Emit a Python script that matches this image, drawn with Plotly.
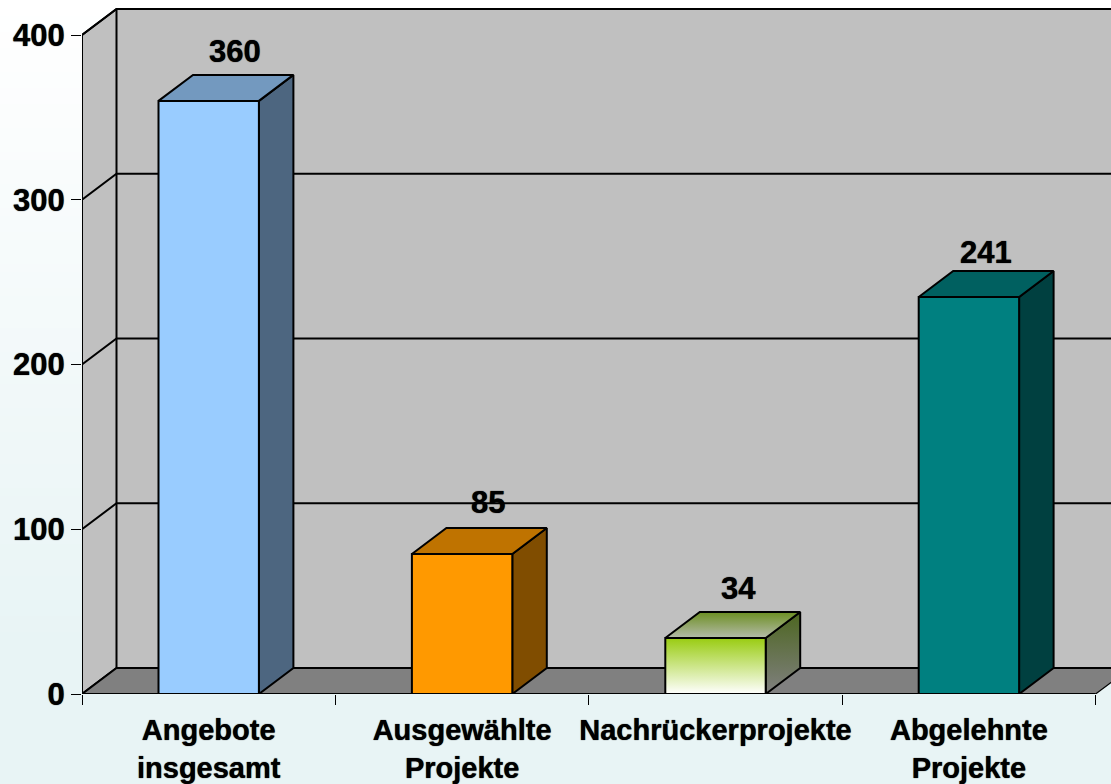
import plotly.graph_objects as go

# ---- data ----
categories = ["Angebote<br>insgesamt", "Ausgewählte<br>Projekte", "Nachrückerprojekte", "Abgelehnte<br>Projekte"]
values = [360, 85, 34, 241]
y_ticks = [0, 100, 200, 300, 400]

# ---- styles ----
FRONT = ["#99CCFF", "#FF9900", None, "#008080"]
TOP = ["#7399BF", "#BF7300", None, "#006060"]
SIDE = ["#4D6680", "#804D00", None, "#004040"]
LABEL_SHIFT = [(26, 3), (26, 5), (23, 3), (17, -2)]

W, H = 1111, 784
L, B = 82, 90
UNIT_X = 253.4      # px per category
UNIT_Y = 164.75 / 100  # px per value unit
DX = 34.5 / UNIT_X   # depth in x units
DY = 26 / UNIT_Y     # depth in y units
BAR_W = 100.4 / UNIT_X
PLOT_W, PLOT_H = W - L, H - B
X_MAX = -0.5 + PLOT_W / UNIT_X
Y_MAX = PLOT_H / UNIT_Y
X_END = 3.5
LW = 2
BLACK = "#000000"
WALL = "#C0C0C0"
FLOOR = "#808080"
SHADOW = "0 0 1px #000"

fig = go.Figure()


def poly(xs, ys, fill=None, gradient=None, width=LW):
    kw = dict(fillgradient=gradient) if gradient else dict(fillcolor=fill)
    fig.add_trace(go.Scatter(x=xs + xs[:1], y=ys + ys[:1], mode="lines", fill="toself",
                             line=dict(color=BLACK, width=width), hoverinfo="skip",
                             showlegend=False, cliponaxis=False, **kw))


def seg(xs, ys, width=LW):
    fig.add_trace(go.Scatter(x=xs, y=ys, mode="lines", line=dict(color=BLACK, width=width),
                             hoverinfo="skip", showlegend=False, cliponaxis=False))


x0 = -0.5
top = y_ticks[-1]
# back wall, left wall, floor
fig.add_trace(go.Scatter(x=[x0 + DX, X_MAX, X_MAX, x0 + DX, x0 + DX], y=[DY, DY, top + DY, top + DY, DY],
                         mode="lines", fill="toself", fillcolor=WALL, line=dict(color=WALL, width=0),
                         hoverinfo="skip", showlegend=False))
poly([x0, x0 + DX, x0 + DX, x0], [0, DY, top + DY, top], fill=WALL)
fig.add_trace(go.Scatter(x=[x0, x0 + DX, X_MAX, X_MAX, X_END, x0], y=[0, DY, DY, (X_MAX - X_END) / DX * DY, 0, 0],
                         mode="lines", fill="toself", fillcolor=FLOOR, line=dict(color=FLOOR, width=0),
                         hoverinfo="skip", showlegend=False))
# gridlines
for t in y_ticks:
    seg([x0, x0 + DX, X_MAX], [t, t + DY, t + DY])
seg([X_END, X_END + DX], [0, DY], width=1.2)

# bars
for i, v in enumerate(values):
    a, b = i - BAR_W / 2, i + BAR_W / 2
    fx, fy = [a, b, b, a], [0, 0, v, v]
    tx, ty = [a, b, b + DX, a + DX], [v, v, v + DY, v + DY]
    sx, sy = [b, b + DX, b + DX, b], [0, DY, v + DY, v]
    if FRONT[i] is None:
        poly(sx, sy, gradient=dict(type="vertical", colorscale=[[0, "#808080"], [1, "#4D6620"]]))
        poly(tx, ty, gradient=dict(type="vertical", colorscale=[[0, "#B5BBAA"], [1, "#6C8F22"]]))
        poly(fx, fy, gradient=dict(type="vertical", colorscale=[[0, "#FFFFFF"], [1, "#99CC11"]]))
    else:
        poly(sx, sy, fill=SIDE[i])
        poly(tx, ty, fill=TOP[i])
        poly(fx, fy, fill=FRONT[i])

# x axis line and y axis line
seg([x0, X_END], [0, 0])
seg([x0, x0], [0, top], width=1.2)

# background gradient strips
shapes = []
c0, c1 = (255, 255, 255), (232, 244, 245)
GRAD_END = 640
STEP = 8
for py in range(0, H, STEP):
    t = min(1, py / GRAD_END)
    col = "rgb(%d,%d,%d)" % tuple(round(p + (q - p) * t) for p, q in zip(c0, c1))
    shapes.append(dict(type="rect", layer="below", xref="paper", yref="paper",
                       x0=-L / PLOT_W, x1=1, y0=(PLOT_H - py) / PLOT_H, y1=(PLOT_H - py - STEP - 1) / PLOT_H,
                       fillcolor=col, line=dict(width=0)))

FONT = "Liberation Sans"
annotations = []
for i, v in enumerate(values):
    sx, sy = LABEL_SHIFT[i]
    annotations.append(dict(x=i, y=v + DY, text="<b>%d</b>" % v, showarrow=False, xanchor="center",
                            yanchor="bottom", xshift=sx, yshift=sy + 1,
                            font=dict(family=FONT, size=31, color=BLACK, shadow=SHADOW)))

fig.update_layout(
    width=W, height=H, margin=dict(l=L, r=0, t=0, b=B, pad=0),
    paper_bgcolor="#FFFFFF", plot_bgcolor="rgba(0,0,0,0)",
    shapes=shapes, annotations=annotations, showlegend=False,
    font=dict(family=FONT, color=BLACK),
    xaxis=dict(range=[x0, X_MAX], tickmode="array", tickvals=list(range(len(categories))),
               ticktext=["<b>%s</b>" % c for c in categories], ticks="", showgrid=False, zeroline=False,
               showline=False, tickangle=0, ticklabelstandoff=16,
               tickfont=dict(family=FONT, size=29, color=BLACK, shadow=SHADOW),
               minor=dict(tickmode="array", tickvals=[-0.5, 0.5, 1.5, 2.5, 3.5], ticks="outside",
                          ticklen=10, tickwidth=1.2, tickcolor=BLACK, showgrid=False)),
    yaxis=dict(range=[0, Y_MAX], tickmode="array", tickvals=y_ticks, ticktext=["<b>%d</b>" % t for t in y_ticks],
               ticks="outside", ticklen=10, tickwidth=1.2, tickcolor=BLACK, showgrid=False, zeroline=False,
               showline=False, ticklabelstandoff=0, tickfont=dict(family=FONT, size=31, color=BLACK, shadow=SHADOW)),
)

fig.write_html("out.html", config={"displayModeBar": False},
               post_script="document.body.style.margin='0';document.documentElement.style.overflow='hidden';")
